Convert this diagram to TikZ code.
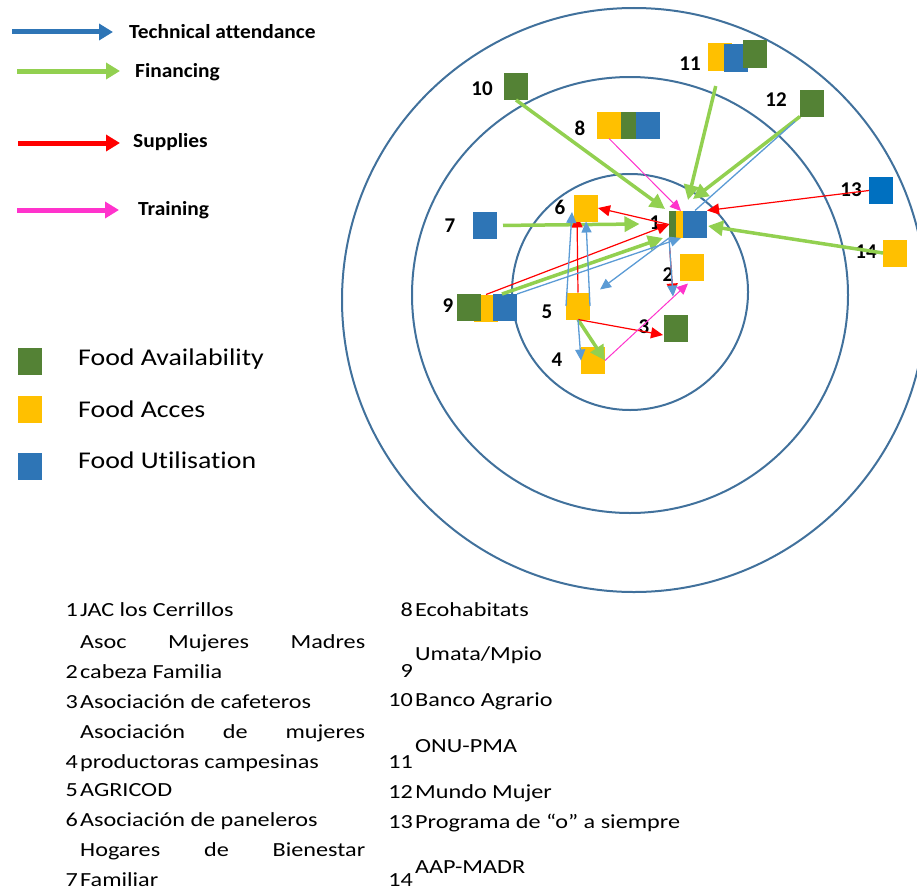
\documentclass[tikz,border=0pt]{standalone}
\usepackage{fontspec}
\setmainfont[Ligatures=CommonOff]{Carlito}
\newfontfamily\legfont[FakeStretch=1.07,Ligatures=CommonOff]{Carlito}
\newfontfamily\keyfont[FakeStretch=1.16,Ligatures=CommonOff]{Carlito}
\newfontfamily\listfont[FakeStretch=1.21,Ligatures=CommonOff]{Carlito}
\usetikzlibrary{arrows.meta,calc}

\definecolor{availgreen}{RGB}{84,130,53}
\definecolor{accesyellow}{RGB}{255,192,0}
\definecolor{utilblue}{RGB}{46,117,182}
\definecolor{utilbright}{RGB}{0,112,192}
\definecolor{ringblue}{RGB}{65,113,156}
\definecolor{techblue}{RGB}{91,155,213}
\definecolor{fingreen}{RGB}{146,208,80}
\definecolor{supred}{RGB}{255,0,0}
\definecolor{trainpink}{RGB}{255,51,204}

\tikzset{
	box/.style={minimum width=24pt, minimum height=27pt, inner sep=0pt, outer sep=0pt},
	avail/.style={box, fill=availgreen},
	acces/.style={box, fill=accesyellow},
	util/.style={box, fill=utilblue},
	ring/.style={line width=2pt, color=ringblue},
	num/.style={font=\fontsize{21}{21}\selectfont\bfseries, inner sep=0pt},
	fin/.style={line width=3.5pt, color=fingreen, -{Triangle[length=15pt,width=15pt]}},
	tech/.style={line width=1.3pt, color=techblue, -{Triangle[length=11pt,width=10pt]}},
	supp/.style={line width=1.2pt, color=supred, -{Triangle[length=12pt,width=11pt]}},
	train/.style={line width=1pt, color=trainpink, -{Triangle[length=11pt,width=10pt]}},
	legarrow/.style={line width=5pt, -{Triangle[length=14pt,width=16pt]}},
	legtext/.style={font=\legfont\fontsize{20}{20}\selectfont\bfseries, anchor=base west, inner sep=0pt},
	keytext/.style={font=\keyfont\fontsize{24}{24}\selectfont, anchor=base west, inner sep=0pt},
	listtext/.style={font=\listfont\fontsize{20}{20}\selectfont, anchor=base west, inner sep=0pt},
	listnum/.style={font=\listfont\fontsize{20}{20}\selectfont, anchor=base east, inner sep=0pt},
}

\begin{document}
\begin{tikzpicture}[x=1pt,y=-1pt]
	%%%%% START %%%%%
	\useasboundingbox (0,0) rectangle (917,891);

	% rings
	\draw[ring] (630,292) circle (118pt);
	\draw[ring] (630,295) circle (218pt);
	\draw[ring] (634,300) circle (292pt);

	% link legend
	\coordinate (ta0) at (12,32);  \coordinate (ta1) at (113,32);
	\coordinate (fi0) at (17,71);  \coordinate (fi1) at (120,71);
	\coordinate (su0) at (18,143); \coordinate (su1) at (120,143);
	\coordinate (tr0) at (17,210); \coordinate (tr1) at (119,210);
	\draw[legarrow, color=utilblue] (ta0) -- (ta1);
	\draw[legarrow, color=fingreen] (fi0) -- (fi1);
	\draw[legarrow, color=supred] (su0) -- (su1);
	\draw[legarrow, color=trainpink] (tr0) -- (tr1);
	\node[legtext] (lta) at (129,38) {Technical attendance};
	\node[legtext] (lfi) at (135,77) {Financing};
	\node[legtext] (lsu) at (133,147) {Supplies};
	\node[legtext] (ltr) at (138,215) {Training};

	% dimension legend
	\node[avail] (kavail) at (30,361) {};
	\node[acces] (kacces) at (30,409) {};
	\node[util] (kutil) at (30,466.5) {};
	\node[keytext] (tavail) at (78,365) {Food Availability};
	\node[keytext] (tacces) at (78,417) {Food Acces};
	\node[keytext] (tutil) at (78,468) {Food Utilisation};

	% actors
	\node[avail] (n1g) at (681,224.5) {};
	\node[acces] (n1y) at (688,224.5) {};
	\node[util] (n1b) at (695,224) {};
	\node[acces] (n2) at (692,267) {};
	\node[avail] (n3) at (676,328) {};
	\node[acces] (n4) at (593,360.5) {};
	\node[acces] (n5) at (578,306) {};
	\node[acces] (n6) at (586,208) {};
	\node[util] (n7) at (485,225.5) {};
	\node[acces] (n8y) at (609,125) {};
	\node[avail] (n8g) at (633,125) {};
	\node[util] (n8b) at (648,125) {};
	\node[acces] (n9y) at (486,308) {};
	\node[avail] (n9g) at (469,307.5) {};
	\node[util] (n9b) at (505,307.5) {};
	\node[avail] (n10) at (516,86.5) {};
	\node[acces] (n11y) at (719.5,57) {};
	\node[util] (n11b) at (736,58) {};
	\node[avail] (n11g) at (755,54) {};
	\node[avail] (n12) at (812,103) {};
	\node[util, fill=utilbright] (n13) at (881,190.5) {};
	\node[acces] (n14) at (895,253) {};

	\node[num] (l1) at (655,223) {1};
	\node[num] (l2) at (668,275) {2};
	\node[num] (l3) at (644,327) {3};
	\node[num] (l4) at (557,360) {4};
	\node[num] (l5) at (547,312) {5};
	\node[num] (l6) at (560,207) {6};
	\node[num] (l7) at (450,226) {7};
	\node[num] (l8) at (580,128) {8};
	\node[num] (l9) at (448,306) {9};
	\node[num] (l10) at (482,89) {10};
	\node[num] (l11) at (690,64) {11};
	\node[num] (l12) at (776,100) {12};
	\node[num] (l13) at (851,190) {13};
	\node[num] (l14) at (866,252) {14};

	% financing
	\draw[fin] (n10.south) -- ($(n1g.north west)+(-4,-2)$);
	\draw[fin, shorten <=16pt] (n11y.south) -- ($(n1y.north)+(0,-11)$);
	\draw[fin] (n12.south west) -- ($(n1y.north)+(5,-12)$);
	\draw[fin, shorten <=6pt] (n7.east) -- ($(l1.west)+(-10,1)$);
	\draw[fin] (n14.west) -- ($(n1b.east)+(1,2)$);
	\draw[fin] ($(n9b.north)+(-3,0)$) -- ($(n1g.south west)+(-6,0)$);
	\draw[fin] (n5.south) -- (n4.east);

	% supplies
	\draw[supp] (n1g.west) -- (n6.east);
	\draw[supp] (n13.west) -- (n1b.north east);
	\draw[supp] (n9y.north) -- (n1g.west);
	\draw[supp] (n5.north) -- ($(n6.south west)+(3,-6)$);
	\draw[supp, shorten <=10pt] (n1g.south west) -- ($(n2.south west)+(-7,15)$);
	\draw[supp] (n5.south) -- ($(n3.west)+(-1,7)$);
	\node[acces] at (n6) {};

	% technical attendance
	\draw[tech, -] ($(n12.south west)+(-5,5)$) -- (n1b.north);
	\draw[tech] (n9b.north east) -- (n1g.south);
	\draw[tech] (n1g.south west) -- ($(n5.north east)+(10,-3)$);
	\draw[tech] (n5.west) -- ($(n6.west)+(-2,4)$);
	\draw[tech] (n5.east) -- (n6.south);
	\draw[tech] (n1g.south west) -- ($(n2.south west)+(-7,16)$);
	\draw[tech] (n5.south) -- (n4.west);

	% training
	\draw[train] (n8y.south) -- (n1g.north);
	\draw[train] (n4.east) -- ($(n2.south)+(-4,3)$);

	% actor list
	\node[listnum] (a1) at (78,616) {1};
	\node[listtext] (b1) at (80,616) {JAC los Cerrillos};
	\node[listtext, text width=285pt, align=left] (b2a) at (80,648) {Asoc\hfill Mujeres\hfill Madres};
	\node[listnum] (a2) at (78,678) {2};
	\node[listtext] (b2) at (80,678) {cabeza Familia};
	\node[listnum] (a3) at (78,708) {3};
	\node[listtext] (b3) at (80,708) {Asociación de cafeteros};
	\node[listtext, text width=285pt, align=left] (b4a) at (80,738) {Asociación\hfill de\hfill mujeres};
	\node[listnum] (a4) at (78,768) {4};
	\node[listtext] (b4) at (80,768) {productoras campesinas};
	\node[listnum] (a5) at (78,796) {5};
	\node[listtext] (b5) at (80,796) {AGRICOD};
	\node[listnum] (a6) at (78,826) {6};
	\node[listtext] (b6) at (80,826) {Asociación de paneleros};
	\node[listtext, text width=285pt, align=left] (b7a) at (80,856) {Hogares\hfill de\hfill Bienestar};
	\node[listnum] (a7) at (78,886) {7};
	\node[listtext] (b7) at (80,886) {Familiar};

	\node[listnum] (a8) at (413,616) {8};
	\node[listtext] (b8) at (415,616) {Ecohabitats};
	\node[listtext] (b9) at (415,660) {Umata/Mpio};
	\node[listnum] (a9) at (413,677) {9};
	\node[listnum] (a10) at (413,706) {10};
	\node[listtext] (b10) at (415,706) {Banco Agrario};
	\node[listtext] (b11) at (415,752) {ONU-PMA};
	\node[listnum] (a11) at (413,768) {11};
	\node[listnum] (a12) at (413,798) {12};
	\node[listtext] (b12) at (415,798) {Mundo Mujer};
	\node[listnum] (a13) at (413,828) {13};
	\node[listtext] (b13) at (415,828) {Programa de “o” a siempre};
	\node[listtext] (b14) at (415,873) {AAP-MADR};
	\node[listnum] (a14) at (413,886) {14};

	%%%%% END %%%%%
\end{tikzpicture}
\end{document}
